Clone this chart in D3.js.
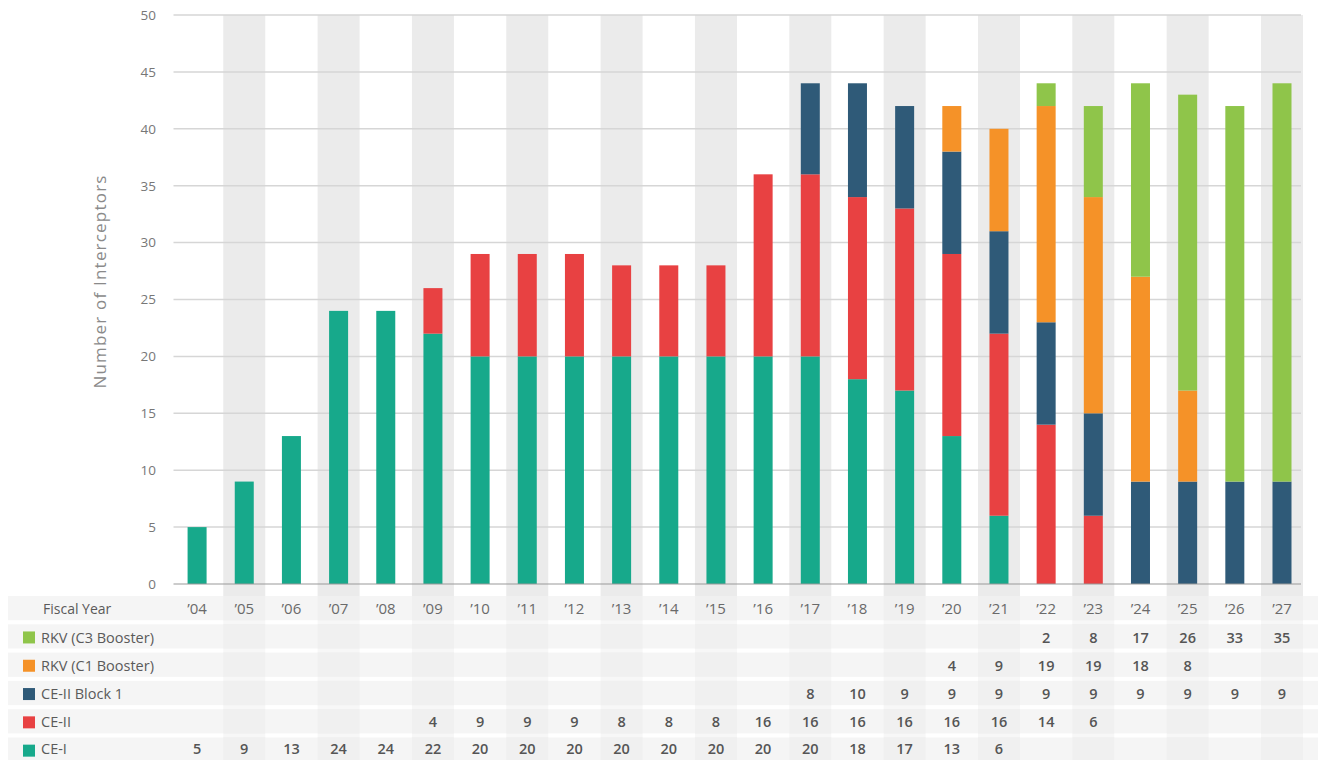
<!DOCTYPE html>
<html>
<head>
<meta charset="utf-8">
<script src="https://cdn.jsdelivr.net/npm/d3@7"></script>
<style>
  body { margin: 0; background: #fff; }
  svg { display: block; font-family: "Open Sans", "Lato", sans-serif; }
</style>
</head>
<body>
<div id="chart"></div>
<script>
var years = ["04","05","06","07","08","09","10","11","12","13","14","15","16","17","18","19","20","21","22","23","24","25","26","27"];
var ce1    = [5,9,13,24,24,22,20,20,20,20,20,20,20,20,18,17,13,6,null,null,null,null,null,null];
var ce2    = [null,null,null,null,null,4,9,9,9,8,8,8,16,16,16,16,16,16,14,6,null,null,null,null];
var block1 = [null,null,null,null,null,null,null,null,null,null,null,null,null,8,10,9,9,9,9,9,9,9,9,9];
var rkvC1  = [null,null,null,null,null,null,null,null,null,null,null,null,null,null,null,null,4,9,19,19,18,8,null,null];
var rkvC3  = [null,null,null,null,null,null,null,null,null,null,null,null,null,null,null,null,null,null,2,8,17,26,33,35];
var yTicks = [0,5,10,15,20,25,30,35,40,45,50];

// stack order bottom -> top
var seriesKeys = ["ce1","ce2","block1","rkvC1","rkvC3"];
var seriesNames = {ce1:"CE-I", ce2:"CE-II", block1:"CE-II Block 1", rkvC1:"RKV (C1 Booster)", rkvC3:"RKV (C3 Booster)"};
var seriesVals = {ce1:ce1, ce2:ce2, block1:block1, rkvC1:rkvC1, rkvC3:rkvC3};
var colors = {ce1:"#17a98b", ce2:"#e84142", block1:"#2f5a78", rkvC1:"#f59228", rkvC3:"#8fc54a"};

var w = 1318, h = 760;
var plotTop = 15, plotBottom = 584, plotLeft = 173.5, plotRight = 1301;

var svg = d3.select("#chart").append("svg").attr("width", w).attr("height", h);

var x = d3.scaleBand().domain(years).range([plotLeft, plotLeft + 47.17 * years.length]).padding(0);
var y = d3.scaleLinear().domain([0, 50]).range([plotBottom, plotTop]);

var table = years.map(function (yr, i) {
  var row = {year: yr};
  seriesKeys.forEach(function (k) { row[k] = seriesVals[k][i] || 0; });
  return row;
});
var stacked = d3.stack().keys(seriesKeys)(table);

// alternating column bands (run through the table too)
svg.append("g")
  .selectAll("rect")
  .data(years.filter(function (d, i) { return i % 2 === 1; }))
  .enter()
  .append("rect")
  .attr("x", function (d) { return x(d) + x.bandwidth() / 2 - 21; })
  .attr("y", plotTop)
  .attr("width", 42)
  .attr("height", h - plotTop)
  .attr("fill", "#ebebeb");

// gridlines
svg.append("g")
  .selectAll("line")
  .data(yTicks.filter(function (d) { return d > 0; }))
  .enter()
  .append("line")
  .attr("x1", plotLeft)
  .attr("x2", plotRight)
  .attr("y1", function (d) { return y(d); })
  .attr("y2", function (d) { return y(d); })
  .attr("stroke", "#d6d6d6")
  .attr("stroke-width", 1.5);

// y axis labels
var yAxis = d3.axisLeft(y).tickValues(yTicks).tickSize(0).tickPadding(0);
var gy = svg.append("g").attr("transform", "translate(156,0)").call(yAxis);
gy.select(".domain").remove();
gy.selectAll("text")
  .attr("font-size", "13.5px")
  .attr("fill", "#777")
  .attr("font-family", "Open Sans, sans-serif");

svg.append("text")
  .attr("transform", "translate(106," + ((plotTop + plotBottom) / 2 - 18) + ") rotate(-90)")
  .attr("text-anchor", "middle")
  .attr("font-size", "17px")
  .attr("fill", "#8a8a8a")
  .attr("letter-spacing", "1.2px")
  .text("Number of Interceptors");

// stacked bars
var barW = 19;
svg.append("g")
  .selectAll("g")
  .data(stacked)
  .enter()
  .append("g")
  .attr("fill", function (d) { return colors[d.key]; })
  .selectAll("rect")
  .data(function (d) { return d; })
  .enter()
  .append("rect")
  .attr("x", function (d) { return x(d.data.year) + x.bandwidth() / 2 - barW / 2; })
  .attr("y", function (d) { return y(d[1]); })
  .attr("width", barW)
  .attr("height", function (d) { return y(d[0]) - y(d[1]); });

// baseline
svg.append("line")
  .attr("x1", plotLeft)
  .attr("x2", plotRight)
  .attr("y1", y(0))
  .attr("y2", y(0))
  .attr("stroke", "#999")
  .attr("stroke-width", 1);

// data table below the chart
var rowH = 28.3, tableTop = 596;
var tableRows = ["year"].concat(seriesKeys.slice().reverse());

var rows = svg.append("g")
  .selectAll("g")
  .data(tableRows)
  .enter()
  .append("g")
  .attr("transform", function (d, i) { return "translate(0," + (tableTop + i * rowH) + ")"; });

rows.append("rect")
  .attr("x", 8)
  .attr("y", 0)
  .attr("width", w - 8)
  .attr("height", rowH - 4)
  .attr("fill", "#f1f1f1")
  .attr("fill-opacity", 0.75);

rows.append("rect")
  .attr("x", 8)
  .attr("y", rowH - 4)
  .attr("width", w - 8)
  .attr("height", 4)
  .attr("fill", "#fff")
  .attr("fill-opacity", 0.6);

rows.filter(function (d) { return d !== "year"; })
  .append("rect")
  .attr("x", 23)
  .attr("y", rowH / 2 - 7)
  .attr("width", 12)
  .attr("height", 12)
  .attr("fill", function (d) { return colors[d]; });

rows.append("text")
  .attr("x", function (d) { return d === "year" ? 43 : 41; })
  .attr("y", function (d) { return d === "ce1" ? rowH / 2 - 2.5 : rowH / 2 - 1; })
  .attr("dy", "0.35em")
  .attr("font-size", function (d) { return d === "year" ? "14px" : "14.5px"; })
  .attr("fill", "#5a5a5a")
  .text(function (d) { return d === "year" ? "Fiscal Year" : seriesNames[d]; });

rows.each(function (key) {
  var vals = key === "year" ? years.map(function (yr) { return "\u2019" + yr; })
                            : seriesVals[key];
  d3.select(this)
    .selectAll("text.v")
    .data(vals)
    .enter()
    .append("text")
    .attr("class", "v")
    .attr("x", function (d, i) { return x(years[i]) + x.bandwidth() / 2; })
    .attr("y", key === "ce1" ? rowH / 2 - 2.5 : rowH / 2 - 1)
    .attr("dy", "0.35em")
    .attr("text-anchor", "middle")
    .attr("font-size", key === "year" ? "15px" : "14.5px")
    .attr("font-weight", key === "year" ? "normal" : "600")
    .attr("fill", key === "year" ? "#6a6a6a" : "#555")
    .text(function (d) { return d == null ? "" : d; });
});
</script>
</body>
</html>
